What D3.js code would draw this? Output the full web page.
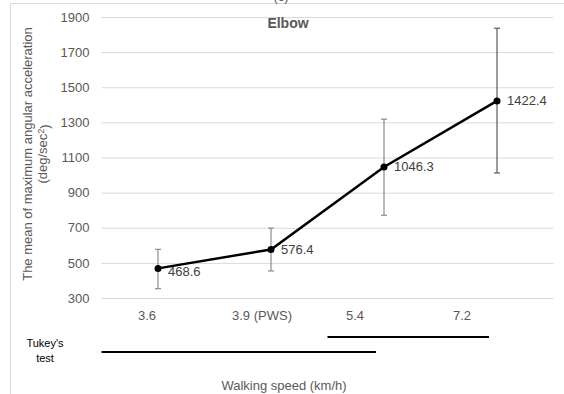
<!DOCTYPE html>
<html>
<head>
<meta charset="utf-8">
<script src="https://cdn.jsdelivr.net/npm/d3@7"></script>
<style>
  body { margin: 0; background: #fff; }
  text { font-family: "Liberation Sans", Arial, sans-serif; }
</style>
</head>
<body>
<svg width="564" height="394"></svg>
<script>
// chart data
var speeds = ["3.6", "3.9 (PWS)", "5.4", "7.2"];
var means = [468.6, 576.4, 1046.3, 1422.4];
var errLow = [353, 454, 771, 1012];
var errHigh = [577, 698, 1318, 1836];
var yTicks = [300, 500, 700, 900, 1100, 1300, 1500, 1700, 1900];
// Tukey groupings (categories not significantly different)
var tukeyGroups = [["5.4", "7.2"], ["3.6", "3.9 (PWS)", "5.4"]];

// layout tweaks for the hand-placed category labels
var labelShift = [-11, -9, -29, -35];

var svg = d3.select("svg");
var grey = "#595959";

// outer chart frame (partly outside the picture)
svg.append("path")
    .attr("d", "M10.5,394 V3.5 H564")
    .attr("fill", "none")
    .attr("stroke", "#d9d9d9");

// panel letter, cut by the top edge as in the source
svg.append("text")
    .attr("x", 281).attr("y", 1)
    .attr("text-anchor", "middle")
    .style("font-size", "13px")
    .attr("fill", grey)
    .text("(c)");

var x = d3.scaleBand().domain(speeds).range([101.5, 553.5]);
var y = d3.scaleLinear().domain([300, 1900]).range([298, 17]);
var cx = function(d) { return x(d) + x.bandwidth() / 2; };

// gridlines + y labels
var yAxis = svg.append("g")
    .attr("transform", "translate(101.5,0)")
    .call(d3.axisLeft(y).tickValues(yTicks).tickSize(-452).tickPadding(12).tickFormat(d3.format("d")));
yAxis.select(".domain").remove();
yAxis.selectAll(".tick line").attr("stroke", "#d9d9d9");
yAxis.selectAll(".tick text")
    .attr("fill", grey)
    .style("font-size", "13px");

// x labels
var xAxis = svg.append("g")
    .attr("transform", "translate(0,298)")
    .call(d3.axisBottom(x).tickSize(0).tickPadding(13));
xAxis.select(".domain").remove();
xAxis.selectAll(".tick text")
    .attr("fill", grey)
    .style("font-size", "13px")
    .attr("dx", function(d, i) { return labelShift[i]; });

// axis titles
var yt = svg.append("text")
    .attr("transform", "translate(27,154) rotate(-90)")
    .attr("text-anchor", "middle")
    .attr("fill", grey)
    .style("font-size", "13px");
yt.append("tspan").attr("x", 0).attr("dy", "0.35em").text("The mean of maximum angular acceleration");
var t2 = yt.append("tspan").attr("x", 0).attr("dy", "1.2em").text("(deg/sec");
t2.append("tspan").attr("dy", "-0.4em").style("font-size", "9px").text("2");
yt.append("tspan").attr("dy", "0.4em").text(")");

svg.append("text")
    .attr("x", 284).attr("y", 390)
    .attr("text-anchor", "middle")
    .attr("fill", grey)
    .style("font-size", "13px")
    .text("Walking speed (km/h)");

svg.append("text")
    .attr("x", 288).attr("y", 28)
    .attr("text-anchor", "middle")
    .attr("fill", grey)
    .style("font-size", "14px")
    .style("font-weight", "bold")
    .text("Elbow");

// error bars
var eb = svg.append("g").selectAll("g")
    .data(speeds)
  .enter().append("g")
    .attr("stroke", function(d, i) { return i < 3 ? "#8c8c8c" : "#595959"; })
    .attr("stroke-width", 1.2);
eb.append("line")
    .attr("x1", cx).attr("x2", cx)
    .attr("y1", function(d, i) { return y(errLow[i]); })
    .attr("y2", function(d, i) { return y(errHigh[i]); });
eb.append("line")
    .attr("x1", function(d) { return cx(d) - 3; }).attr("x2", function(d) { return cx(d) + 3; })
    .attr("y1", function(d, i) { return y(errLow[i]); })
    .attr("y2", function(d, i) { return y(errLow[i]); });
eb.append("line")
    .attr("x1", function(d) { return cx(d) - 3; }).attr("x2", function(d) { return cx(d) + 3; })
    .attr("y1", function(d, i) { return y(errHigh[i]); })
    .attr("y2", function(d, i) { return y(errHigh[i]); });

// mean line
var line = d3.line()
    .x(function(d, i) { return cx(speeds[i]); })
    .y(function(d) { return y(d); });

svg.append("path")
    .datum(means)
    .attr("d", line)
    .attr("fill", "none")
    .attr("stroke", "#000")
    .attr("stroke-width", 2.5);

svg.selectAll(".dot")
    .data(means)
  .enter().append("circle")
    .attr("class", "dot")
    .attr("cx", function(d, i) { return cx(speeds[i]); })
    .attr("cy", function(d) { return y(d); })
    .attr("r", 3.5)
    .attr("fill", "#000");

svg.selectAll(".lbl")
    .data(means)
  .enter().append("text")
    .attr("class", "lbl")
    .attr("x", function(d, i) { return cx(speeds[i]) + 10; })
    .attr("y", function(d) { return y(d); })
    .attr("dy", function(d, i) { return i == 0 ? "0.6em" : "0.35em"; })
    .attr("fill", "#404040")
    .style("font-size", "13px")
    .text(function(d) { return d.toFixed(1); });

// Tukey's test
var tk = svg.append("text")
    .attr("text-anchor", "middle")
    .attr("fill", "#000")
    .style("font-size", "11px");
tk.append("tspan").attr("x", 45).attr("y", 347).text("Tukey's");
tk.append("tspan").attr("x", 45).attr("y", 362).text("test");

svg.selectAll(".tukey")
    .data(tukeyGroups)
  .enter().append("line")
    .attr("class", "tukey")
    .attr("x1", function(g) { return x(g[0]); })
    .attr("x2", function(g) { return cx(g[g.length - 1]) - 8; })
    .attr("y1", function(g, i) { return 337 + i * 15; })
    .attr("y2", function(g, i) { return 337 + i * 15; })
    .attr("stroke", "#000")
    .attr("stroke-width", 2);
</script>
</body>
</html>
